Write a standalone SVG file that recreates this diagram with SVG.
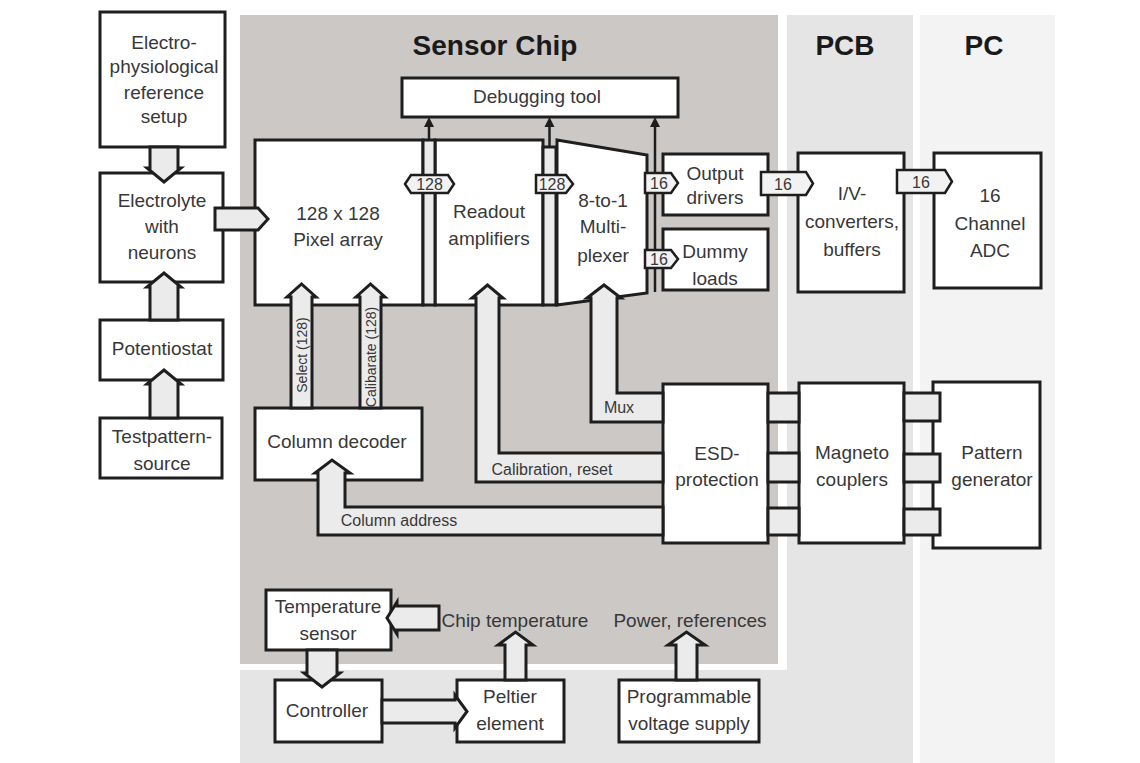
<svg xmlns="http://www.w3.org/2000/svg" width="1140" height="763" viewBox="0 0 1140 763">
<style>
.box{fill:#fff;stroke:#1e1e1e;stroke-width:3}
.ch{fill:#ebebeb;stroke:#1e1e1e;stroke-width:3;stroke-linejoin:miter}
.lb{fill:#f2f2f2;stroke:#1e1e1e;stroke-width:2.5}
.t{font-family:"Liberation Sans",Arial,sans-serif;font-size:19px;fill:#383838;text-anchor:middle}
.s{font-size:16px}
.r{font-size:14px}
.ttl{font-family:"Liberation Sans",Arial,sans-serif;font-weight:bold;font-size:28px;fill:#1a1a1a;text-anchor:middle}
.stem{stroke:#1e1e1e;stroke-width:2.5}
.ah{fill:#1e1e1e}
</style>
<rect width="1140" height="763" fill="#fff"/>
<g id="regions">
<rect x="240" y="15" width="538" height="649" fill="#cbc8c6"/>
<rect x="787" y="15" width="126" height="748" fill="#e5e5e5"/>
<rect x="240" y="670" width="673" height="93" fill="#e5e5e5"/>
<rect x="920" y="15" width="135" height="748" fill="#f3f3f3"/>
<text class="ttl" x="495" y="55">Sensor Chip</text>
<text class="ttl" x="845" y="55">PCB</text>
<text class="ttl" x="984" y="55">PC</text>
</g>
<g id="n-ephys"><rect class="box" x="100" y="12" width="125" height="135"/>
<text class="t" x="164" y="49">Electro-</text><text class="t" x="164" y="73">physiological</text><text class="t" x="164" y="99">reference</text><text class="t" x="164" y="123">setup</text></g>
<g id="n-electrolyte"><rect class="box" x="100" y="173" width="123" height="109"/>
<text class="t" x="162" y="207">Electrolyte</text><text class="t" x="162" y="233">with</text><text class="t" x="162" y="259">neurons</text></g>
<g id="n-potentiostat"><rect class="box" x="100" y="320" width="123" height="60"/>
<text class="t" x="162" y="355">Potentiostat</text></g>
<g id="n-testpattern"><rect class="box" x="100" y="418" width="122" height="60"/>
<text class="t" x="162" y="443">Testpattern-</text><text class="t" x="162" y="470">source</text></g>
<g id="n-debug"><rect class="box" x="402" y="78" width="276" height="39"/>
<text class="t" x="537" y="103">Debugging tool</text></g>
<g id="n-pixel"><rect class="box" x="255" y="140" width="168" height="165"/>
<text class="t" x="338" y="220">128 x 128</text><text class="t" x="338" y="246">Pixel array</text></g>
<g id="n-readout"><rect class="box" x="435" y="140" width="108" height="165"/>
<text class="t" x="489" y="218">Readout</text><text class="t" x="489" y="245">amplifiers</text></g>
<g id="n-mux"><polygon class="box" points="557,140 647,155 647,293 557,305"/>
<text class="t" x="603" y="207">8-to-1</text><text class="t" x="603" y="233">Multi-</text><text class="t" x="603" y="262">plexer</text></g>
<g id="n-output"><rect class="box" x="663" y="154" width="105" height="61"/>
<text class="t" x="715" y="180">Output</text><text class="t" x="715" y="204">drivers</text></g>
<g id="n-dummy"><rect class="box" x="663" y="229" width="105" height="61"/>
<text class="t" x="715" y="258">Dummy</text><text class="t" x="715" y="285">loads</text></g>
<g id="n-iv"><rect class="box" x="798" y="153" width="106" height="139"/>
<text class="t" x="852" y="200">I/V-</text><text class="t" x="852" y="228">converters,</text><text class="t" x="852" y="256">buffers</text></g>
<g id="n-adc"><rect class="box" x="934" y="153" width="107" height="135"/>
<text class="t" x="990" y="202">16</text><text class="t" x="990" y="230">Channel</text><text class="t" x="990" y="257">ADC</text></g>
<g id="n-coldec"><rect class="box" x="255" y="408" width="167" height="72"/>
<text class="t" x="337" y="448">Column decoder</text></g>
<g id="n-esd"><rect class="box" x="663" y="384" width="105" height="159"/>
<text class="t" x="717" y="460">ESD-</text><text class="t" x="717" y="486">protection</text></g>
<g id="n-magneto"><rect class="box" x="799" y="383" width="105" height="160"/>
<text class="t" x="852" y="459">Magneto</text><text class="t" x="852" y="486">couplers</text></g>
<g id="n-pattern"><rect class="box" x="933" y="382" width="107" height="166"/>
<text class="t" x="992" y="459">Pattern</text><text class="t" x="992" y="486">generator</text></g>
<g id="n-tempsensor"><rect class="box" x="266" y="590" width="125" height="60"/>
<text class="t" x="328" y="613">Temperature</text><text class="t" x="328" y="640">sensor</text></g>
<g id="n-controller"><rect class="box" x="275" y="680" width="107" height="62"/>
<text class="t" x="327" y="717">Controller</text></g>
<g id="n-peltier"><rect class="box" x="457" y="680" width="107" height="62"/>
<text class="t" x="510" y="703">Peltier</text><text class="t" x="510" y="730">element</text></g>
<g id="n-supply"><rect class="box" x="619" y="680" width="140" height="62"/>
<text class="t" x="689" y="703">Programmable</text><text class="t" x="689" y="730">voltage supply</text></g>
<g id="connectors">
<polygon class="ch" points="150,147 178,147 178,168 181,168 164,182 147,168 150,168"/>
<polygon class="ch" points="150,320 150,287 147,287 164,273 181,287 178,287 178,320"/>
<polygon class="ch" points="150,418 150,384 147,384 164,370 181,384 178,384 178,418"/>
<polygon class="ch" points="215,208 258,208 268,219 258,230 215,230"/>
<rect class="ch" x="423" y="140" width="12" height="165"/>
<rect class="ch" x="543" y="147" width="13" height="158"/>
<line class="stem" x1="655" y1="126" x2="655" y2="292"/>
<line class="stem" x1="429" y1="126" x2="429" y2="140"/>
<line class="stem" x1="549.5" y1="126" x2="549.5" y2="147"/>
<polygon class="ah" points="424,127 434,127 429,117"/>
<polygon class="ah" points="544.5,127 554.5,127 549.5,117"/>
<polygon class="ah" points="650,127 660,127 655,117"/>
<polygon class="lb" points="405,184 411,175 448,175 454,184 448,193 411,193"/>
<text class="t s" x="429.5" y="190">128</text>
<polygon class="lb" points="536,175 566,175 573,184 566,193 536,193"/>
<text class="t s" x="552" y="190">128</text>
<polygon class="lb" points="645,173 671,173 678,183 671,193 645,193"/>
<text class="t s" x="659" y="189">16</text>
<polygon class="lb" points="645,250 671,250 678,259 671,268 645,268"/>
<text class="t s" x="659" y="265">16</text>
<polygon class="lb" points="761,172 806,172 813,183.5 806,195 761,195"/>
<text class="t s" x="783" y="190">16</text>
<polygon class="lb" points="897,170 945,170 952,181.5 945,193 897,193"/>
<text class="t s" x="921" y="188">16</text>
<polygon class="ch" points="291,408 291,297 287,297 301.5,284 316,297 312,297 312,408"/>
<polygon class="ch" points="360,408 360,297 356,297 370.5,284 385,297 381,297 381,408"/>
<text class="t r" transform="translate(306.5,355) rotate(-90)">Select (128)</text>
<text class="t r" transform="translate(375.5,357) rotate(-90)">Calibarate (128)</text>
<polygon class="ch" points="663,393 617,393 617,298 621,298 604,285 587,298 591,298 591,422 663,422"/>
<text class="t s" x="619" y="413">Mux</text>
<polygon class="ch" points="663,453 499,453 499,298 503,298 487.5,285 472,298 476,298 476,482 663,482"/>
<text class="t s" x="552" y="475">Calibration, reset</text>
<polygon class="ch" points="663,507 345,507 345,473 350,473 332,460 315,473 318,473 318,535 663,535"/>
<text class="t s" x="399" y="526">Column address</text>
<rect class="ch" x="768" y="393" width="31" height="29"/>
<rect class="ch" x="768" y="453" width="31" height="29"/>
<rect class="ch" x="768" y="508" width="31" height="27"/>
<rect class="ch" x="904" y="393" width="36" height="28"/>
<rect class="ch" x="904" y="454" width="36" height="28"/>
<rect class="ch" x="904" y="509" width="36" height="26"/>
<polygon class="ch" points="307,650 307,673 304,673 322,687 340,673 337,673 337,650"/>
<polygon class="ch" points="439,606 397,606 397,602 387,618 397,634 397,630 439,630"/>
<text class="t" x="515" y="627">Chip temperature</text>
<text class="t" x="690" y="627">Power, references</text>
<polygon class="ch" points="382,700 455,700 455,695 467,711.5 455,728 455,723 382,723"/>
<polygon class="ch" points="505,680 505,645 498,645 515.5,632 533,645 526,645 526,680"/>
<polygon class="ch" points="676,680 676,645 668,645 686.5,632 705,645 697,645 697,680"/>
</g>
</svg>
